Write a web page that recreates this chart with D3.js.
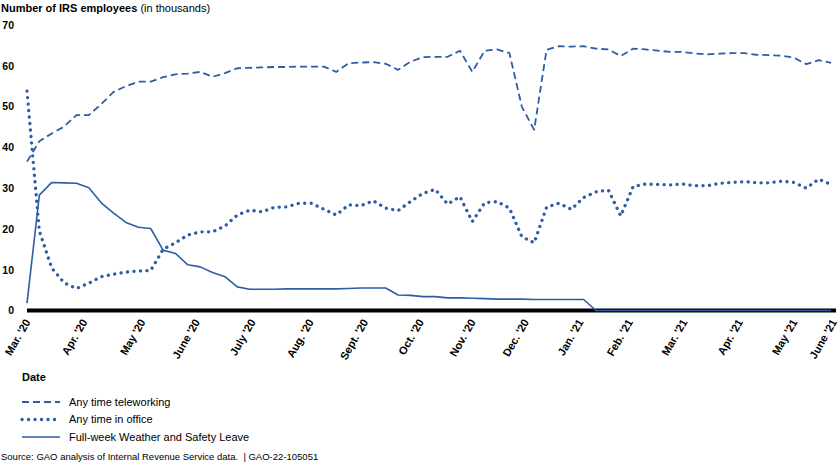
<!DOCTYPE html>
<html>
<head>
<meta charset="utf-8">
<script src="https://cdn.jsdelivr.net/npm/d3@7"></script>
<style>
  body { margin: 0; background: #fff; }
  svg { font-family: "Liberation Sans", Arial, sans-serif; }
</style>
</head>
<body>
<svg width="840" height="463"></svg>
<script>
// weekly values, in thousands, first point = start of March 2020
const teleworking = [36.5, 41.5, 43.4, 45.1, 47.9, 47.9, 50.6, 53.6, 55.0, 56.1,
  56.1, 57.2, 57.9, 58.1, 58.5, 57.3, 58.2, 59.4, 59.5, 59.6,
  59.7, 59.7, 59.8, 59.8, 59.8, 58.5, 60.6, 60.8, 60.9, 60.5,
  59.0, 61.0, 62.1, 62.2, 62.2, 63.7, 58.5, 63.7, 64.0, 63.1,
  50.0, 44.3, 63.9, 64.8, 64.7, 64.8, 64.2, 64.0, 62.4, 64.2,
  64.0, 63.7, 63.4, 63.4, 63.0, 62.8, 63.0, 63.1, 63.1, 62.7,
  62.6, 62.5, 62.0, 60.4, 61.4, 60.7];

const inOffice = [53.8, 19.5, 10.4, 6.8, 5.4, 6.7, 8.3, 8.9, 9.4, 9.7,
  9.8, 15.0, 16.6, 18.5, 19.3, 19.3, 20.7, 23.4, 24.6, 24.2,
  25.3, 25.4, 26.3, 26.3, 24.8, 23.4, 25.9, 25.7, 26.9, 25.1,
  24.5, 26.7, 28.7, 29.7, 26.1, 27.9, 21.8, 26.4, 26.7, 25.1,
  18.1, 16.6, 25.3, 26.3, 24.8, 27.7, 29.1, 29.5, 23.2, 30.4,
  31.0, 30.9, 30.8, 31.0, 30.6, 30.6, 31.2, 31.4, 31.6, 31.3,
  31.3, 31.7, 31.4, 30.0, 32.2, 30.9];

const weatherLeave = [1.8, 28.3, 31.4, 31.3, 31.2, 30.1, 26.4, 23.9, 21.6, 20.4,
  20.1, 14.8, 14.0, 11.2, 10.7, 9.3, 8.3, 5.8, 5.2, 5.2,
  5.2, 5.3, 5.3, 5.3, 5.3, 5.3, 5.4, 5.5, 5.5, 5.5,
  3.8, 3.7, 3.4, 3.4, 3.1, 3.1, 3.0, 2.9, 2.8, 2.8,
  2.8, 2.7, 2.7, 2.7, 2.7, 2.7, 0, 0, 0, 0,
  0, 0, 0, 0, 0, 0, 0, 0, 0, 0,
  0, 0, 0, 0, 0, 0];

const monthLabels = ["Mar. '20", "Apr. '20", "May '20", "June '20", "July '20", "Aug. '20",
  "Sept. '20", "Oct. '20", "Nov. '20", "Dec. '20", "Jan. '21", "Feb. '21",
  "Mar. '21", "Apr. '21", "May '21", "June '21"];
// week index where each month label sits
const monthWeek = [0, 4.6, 9.3, 13.7, 18.2, 22.9, 27.3, 31.8, 36, 40.3, 44.7, 48.7, 53.1, 57.6, 62, 65.2];

const yTicks = [0, 10, 20, 30, 40, 50, 60, 70];

const seriesNames = ["Any time teleworking", "Any time in office", "Full-week Weather and Safety Leave"];

const blue = "#2d5da7";
const styles = [
  { width: 1.8, dash: "7,4", cap: "butt" },
  { width: 3.3, dash: "0.1,6.4", cap: "round" },
  { width: 1.6, dash: null, cap: "butt" }
];
const series = [teleworking, inOffice, weatherLeave];

const svg = d3.select("svg");

const x = d3.scaleLinear().domain([0, 65.4]).range([27, 836]);
const y = d3.scaleLinear().domain([0, 70]).range([310.5, 25]);

// title
const title = svg.append("text")
  .attr("x", 1)
  .attr("y", 12)
  .style("font-size", "11px");
title.append("tspan").attr("font-weight", "bold").text("Number of IRS employees");
title.append("tspan").text(" (in thousands)");

// y axis (labels only)
const yAxis = svg.append("g")
  .attr("transform", "translate(17,0)")
  .call(d3.axisLeft(y).tickValues(yTicks).tickSize(0).tickPadding(3));
yAxis.select(".domain").remove();
yAxis.selectAll("text")
  .attr("font-weight", "bold")
  .style("font-size", "10.5px")
  .attr("fill", "#000");

// x axis
const xAxis = svg.append("g")
  .attr("transform", "translate(0,310)")
  .call(d3.axisBottom(x).tickValues(monthWeek).tickSize(0)
    .tickFormat((d, i) => monthLabels[i]));
xAxis.select(".domain").remove();
xAxis.selectAll("text")
  .attr("font-weight", "bold")
  .style("font-size", "11px")
  .attr("fill", "#000")
  .attr("text-anchor", "end")
  .attr("x", 0)
  .attr("y", 0)
  .attr("dy", "0.35em")
  .attr("transform", "translate(0,10) rotate(-60)");

svg.append("line")
  .attr("x1", x(0)).attr("x2", x(65.4))
  .attr("y1", y(0)).attr("y2", y(0))
  .attr("stroke", "#000")
  .attr("stroke-width", 4);

// lines
const line = d3.line()
  .x((d, i) => x(i))
  .y(d => y(d));

svg.selectAll("path.series")
  .data(series)
  .join("path")
  .attr("class", "series")
  .attr("d", line)
  .attr("fill", "none")
  .attr("stroke", blue)
  .attr("stroke-width", (d, i) => styles[i].width)
  .attr("stroke-dasharray", (d, i) => styles[i].dash)
  .attr("stroke-linecap", (d, i) => styles[i].cap)
  .attr("stroke-linejoin", "round");

// x axis title
svg.append("text")
  .attr("x", 22)
  .attr("y", 381)
  .attr("font-weight", "bold")
  .style("font-size", "11px")
  .text("Date");

// legend
const legend = svg.append("g")
  .selectAll("g")
  .data(seriesNames)
  .join("g")
  .attr("transform", (d, i) => `translate(22, ${402 + i * 17.5})`);

legend.append("line")
  .attr("x1", 0).attr("x2", 38)
  .attr("y1", 0).attr("y2", 0)
  .attr("stroke", blue)
  .attr("stroke-width", (d, i) => styles[i].width)
  .attr("stroke-dasharray", (d, i) => styles[i].dash)
  .attr("stroke-linecap", (d, i) => styles[i].cap);

legend.append("text")
  .attr("x", 47)
  .attr("y", 0)
  .attr("dy", "0.35em")
  .style("font-size", "11px")
  .text(d => d);

// source
svg.append("text")
  .attr("x", 1)
  .attr("y", 460)
  .style("font-size", "9.5px")
  .attr("xml:space", "preserve")
  .text("Source: GAO analysis of Internal Revenue Service data.  | GAO-22-105051");
</script>
</body>
</html>
